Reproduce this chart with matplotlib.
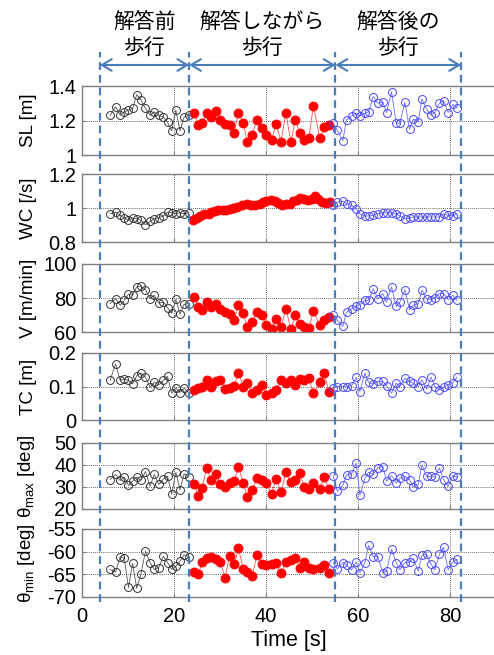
import matplotlib
matplotlib.use('Agg')
import matplotlib.pyplot as plt
from matplotlib.lines import Line2D
from matplotlib.patches import FancyArrowPatch
from matplotlib.ticker import FuncFormatter, FixedLocator

plt.rcParams['font.family'] = ['Liberation Sans', 'Noto Sans CJK JP', 'DejaVu Sans']
plt.rcParams['axes.unicode_minus'] = False
plt.rcParams['mathtext.fontset'] = 'custom'
plt.rcParams['mathtext.rm'] = 'Liberation Sans'
plt.rcParams['mathtext.it'] = 'Liberation Sans:italic'

# ---------------- data ----------------
t_before = [6.1, 7.3, 8.3, 9.2, 10.1, 11.0, 11.9, 12.8, 13.8, 14.8, 15.7, 16.7, 17.7, 18.6,
            19.5, 20.4, 21.3, 22.2, 23.2]
t_during = [24.4, 25.3, 26.1, 27.1, 28.1, 29.1, 30.1, 31.1, 32.1, 33.1, 34.0, 35.1, 35.9, 37.0,
            38.0, 39.1, 40.0, 41.2, 42.2, 43.3, 44.3, 45.4, 46.4, 47.3, 48.3, 49.3, 50.3, 51.7,
            52.7, 53.6]
t_after = [54.6, 55.5, 56.7, 57.5, 58.6, 59.6, 60.4, 61.5, 62.3, 63.3, 64.3, 65.4, 66.2, 67.3,
           68.3, 69.1, 70.2, 71.2, 72.0, 73.1, 73.9, 74.9, 75.9, 76.7, 77.7, 78.6, 79.6, 80.6, 81.5]
t_during_wc = [24.2, 24.9, 25.7, 26.5, 27.5, 28.0, 28.9, 29.6, 30.6, 31.4, 32.2, 32.9, 33.8, 34.7,
               35.8, 36.7, 37.6, 38.6, 39.4, 40.1, 41.0, 41.9, 42.7, 43.4, 44.3, 45.2, 45.9, 46.7,
               47.4, 48.3, 49.2, 49.9, 50.7, 51.4, 52.1, 53.0, 53.9]

sl_before = [1.23, 1.28, 1.23, 1.25, 1.26, 1.27, 1.35, 1.32, 1.27, 1.23, 1.25, 1.23, 1.22, 1.19,
             1.14, 1.26, 1.14, 1.22, 1.23]
sl_during = [1.242, 1.174, 1.184, 1.242, 1.223, 1.253, 1.204, 1.181, 1.174, 1.130, 1.246, 1.184,
             1.078, 1.116, 1.204, 1.155, 1.116, 1.087, 1.178, 1.078, 1.246, 1.078, 1.204, 1.126,
             1.087, 1.097, 1.285, 1.097, 1.161, 1.174]
sl_after = [1.185, 1.143, 1.083, 1.204, 1.227, 1.242, 1.227, 1.242, 1.250, 1.339, 1.300, 1.306,
            1.246, 1.366, 1.184, 1.184, 1.306, 1.149, 1.207, 1.194, 1.325, 1.265, 1.232, 1.246,
            1.300, 1.315, 1.246, 1.294, 1.275]

wc_before = [0.966, 0.976, 0.957, 0.941, 0.927, 0.941, 0.937, 0.927, 0.901, 0.921, 0.937, 0.943,
             0.953, 0.976, 0.972, 0.966, 0.972, 0.966, 0.972]
wc_during = [0.927, 0.941, 0.953, 0.966, 0.966, 0.976, 0.980, 0.986, 0.986, 0.990, 0.992, 1.000,
             1.006, 1.016, 1.026, 1.016, 1.020, 1.026, 1.036, 1.039, 1.045, 1.039, 1.032, 1.020,
             1.026, 1.026, 1.039, 1.045, 1.059, 1.051, 1.045, 1.051, 1.071, 1.055, 1.036, 1.032,
             1.036]
wc_after = [1.016, 1.036, 1.039, 1.026, 1.016, 0.996, 0.966, 0.953, 0.953, 0.957, 0.966, 0.972,
            0.972, 0.972, 0.966, 0.953, 0.937, 0.941, 0.947, 0.947, 0.947, 0.947, 0.947, 0.947,
            0.947, 0.966, 0.957, 0.953, 0.966]

v_before = [76.7, 79.6, 75.7, 78.6, 82.2, 81.6, 86.5, 86.9, 84.9, 79.6, 81.6, 77.0, 77.6, 74.3,
            71.1, 79.2, 70.4, 76.3, 76.7]
v_during = [80.6, 74.7, 73.1, 77.6, 74.7, 76.7, 73.7, 71.7, 70.7, 67.1, 75.7, 71.1, 62.9, 65.9,
            71.7, 69.8, 64.4, 61.9, 67.8, 62.9, 73.7, 61.9, 69.8, 64.8, 62.9, 62.5, 72.1, 63.9,
            66.8, 68.8]
v_after = [69.8, 66.8, 63.3, 71.7, 73.7, 75.1, 76.1, 78.6, 78.6, 85.5, 79.6, 82.6, 77.6, 86.5,
           75.1, 77.6, 84.9, 73.1, 75.7, 76.7, 84.5, 79.6, 79.0, 80.0, 82.6, 82.6, 79.0, 81.6, 78.6]

tc_before = [0.118, 0.167, 0.118, 0.122, 0.118, 0.108, 0.132, 0.140, 0.128, 0.098, 0.112, 0.105,
             0.118, 0.130, 0.080, 0.095, 0.082, 0.095, 0.082]
tc_during = [0.090, 0.095, 0.100, 0.118, 0.100, 0.115, 0.120, 0.092, 0.095, 0.102, 0.140, 0.100,
             0.110, 0.082, 0.090, 0.105, 0.075, 0.080, 0.090, 0.118, 0.110, 0.118, 0.105, 0.122,
             0.118, 0.125, 0.080, 0.112, 0.140, 0.085]
tc_after = [0.095, 0.100, 0.100, 0.100, 0.102, 0.128, 0.085, 0.140, 0.112, 0.108, 0.115, 0.115,
            0.102, 0.080, 0.110, 0.100, 0.125, 0.115, 0.110, 0.100, 0.120, 0.092, 0.128, 0.100,
            0.090, 0.098, 0.105, 0.110, 0.128]

thmax_before = [33.4, 35.7, 33.0, 34.5, 30.7, 32.7, 34.5, 33.0, 37.0, 30.3, 35.7, 31.2, 33.7, 34.9,
                26.7, 36.7, 28.8, 36.0, 34.5]
thmax_during = [31.2, 25.9, 29.7, 38.7, 33.0, 36.0, 31.2, 30.0, 31.8, 32.7, 39.0, 31.8, 25.5, 28.8,
                34.0, 33.0, 31.8, 27.0, 33.7, 27.7, 36.7, 32.2, 33.0, 36.3, 30.0, 29.2, 31.8, 29.2,
                34.5, 29.2]
thmax_after = [35.2, 28.0, 30.7, 35.5, 36.0, 40.9, 26.2, 34.0, 36.7, 35.7, 38.7, 39.3, 32.7, 35.2,
               31.8, 34.0, 34.8, 33.3, 30.0, 31.2, 40.1, 34.8, 34.8, 34.5, 38.7, 33.3, 30.3, 35.2,
               34.5]

thmin_before = [-63.9, -64.5, -61.1, -61.5, -67.9, -62.6, -68.1, -65.0, -59.9, -62.4, -63.9, -63.5,
                -61.0, -62.4, -63.9, -63.2, -62.1, -60.7, -61.1]
thmin_during = [-64.4, -65.0, -62.3, -61.5, -61.1, -61.7, -62.3, -65.7, -61.0, -62.8, -59.3, -63.9,
                -64.5, -65.4, -60.8, -62.8, -63.0, -62.8, -62.6, -64.8, -62.3, -61.9, -61.3, -63.5,
                -62.3, -63.5, -63.8, -63.5, -63.0, -64.8]
thmin_after = [-62.4, -63.8, -62.4, -63.0, -64.0, -62.3, -64.6, -62.4, -58.6, -61.1, -61.1, -64.6,
               -64.3, -59.5, -62.4, -64.0, -62.4, -62.3, -61.5, -64.3, -60.8, -60.6, -62.8, -64.0,
               -60.6, -59.0, -64.0, -62.3, -61.7]

ylabels = ['SL [m]', 'WC [/s]', 'V [m/min]', 'TC [m]',
           r'$\mathrm{\theta}_{\mathrm{max}}$ [deg]', r'$\mathrm{\theta}_{\mathrm{min}}$ [deg]']
yticks = [[1, 1.2, 1.4], [0.8, 1, 1.2], [60, 80, 100], [0, 0.1, 0.2],
          [20, 30, 40, 50], [-70, -65, -60, -55]]
xticks = [0, 20, 40, 60, 80]
x_max = 90
boundaries = [3.9, 23.3, 55.1, 82.4]
phase_labels = ['解答前\n歩行', '解答しながら\n歩行', '解答後の\n歩行']
xlabel = 'Time [s]'

series = [
    (t_before, sl_before, t_during, sl_during, t_after, sl_after),
    (t_before, wc_before, t_during_wc, wc_during, t_after, wc_after),
    (t_before, v_before, t_during, v_during, t_after, v_after),
    (t_before, tc_before, t_during, tc_during, t_after, tc_after),
    (t_before, thmax_before, t_during, thmax_during, t_after, thmax_after),
    (t_before, thmin_before, t_during, thmin_during, t_after, thmin_after),
]

# ---------------- layout ----------------
W, H = 494, 655
fig = plt.figure(figsize=(W / 100, H / 100), dpi=100)
panel_px = [(86, 155), (174, 242), (264, 332), (353, 420), (443, 509), (529, 597)]
left_px, width_px = 82, 414
blue_line = '#4a7ebb'
fmt = FuncFormatter(lambda v, _: f'{v:g}')

axes = []
for i, (top, bot) in enumerate(panel_px):
    ax = fig.add_axes([left_px / W, 1 - bot / H, width_px / W, (bot - top) / H])
    tb, yb, td, yd, ta, ya = series[i]
    ax.plot(tb, yb, '-', color='#555555', lw=0.6, marker='o', ms=5.7, mfc='none',
            mec='#333333', mew=0.7)
    ax.plot(td, yd, '-', color='#ff5050', lw=0.6, marker='o', ms=6.4, mfc='#ff0000',
            mec='#ff0000', mew=0.7)
    ax.plot(ta, ya, '-', color='#6a6aff', lw=0.6, marker='o', ms=5.7, mfc='none',
            mec='#4848ff', mew=0.7)
    ax.set_xlim(0, x_max)
    ax.set_ylim(yticks[i][0], yticks[i][-1])
    ax.yaxis.set_major_locator(FixedLocator(yticks[i]))
    ax.yaxis.set_major_formatter(fmt)
    ax.xaxis.set_major_locator(FixedLocator(xticks))
    ax.xaxis.set_major_formatter(fmt)
    ax.grid(True, linestyle=(0, (1, 1.5)), color='#333333', lw=0.6)
    ax.tick_params(direction='in', length=3, color='#808080', labelsize=14.5, pad=4)
    for s in ax.spines.values():
        s.set_color('#808080')
        s.set_linewidth(1.0)
    ax.set_ylabel(ylabels[i], fontsize=13.5)
    ax.yaxis.set_label_coords(-0.108, 0.5)
    if i < len(panel_px) - 1:
        ax.tick_params(labelbottom=False)
    else:
        ax.tick_params(axis='x', pad=7)
        ax.set_xlabel(xlabel, fontsize=15.5, labelpad=3)
    axes.append(ax)

# phase boundaries, arrows and labels (figure-level annotations)
to_fig = fig.transFigure.inverted()
bx = [to_fig.transform(axes[0].transData.transform((b, 0)))[0] for b in boundaries]
y_top, y_bot = 1 - 52 / H, 1 - 602 / H
y_arrow = 1 - 65 / H
for x in bx:
    fig.add_artist(Line2D([x, x], [y_bot, y_top], transform=fig.transFigure, color=blue_line,
                          lw=1.6, linestyle=(0, (3.5, 2.2)), zorder=10))
for j in range(3):
    arr = FancyArrowPatch((bx[j], y_arrow), (bx[j + 1], y_arrow), transform=fig.transFigure,
                          arrowstyle='<->,head_length=0.7,head_width=0.42', mutation_scale=10,
                          color=blue_line, lw=1.5, shrinkA=0, shrinkB=0, zorder=10)
    fig.add_artist(arr)
    fig.text((bx[j] + bx[j + 1]) / 2, 1 - 35 / H, phase_labels[j], ha='center', va='center',
             fontsize=15, linespacing=1.25, family=['Noto Sans CJK JP'])

fig.savefig('out.png', dpi=100)
